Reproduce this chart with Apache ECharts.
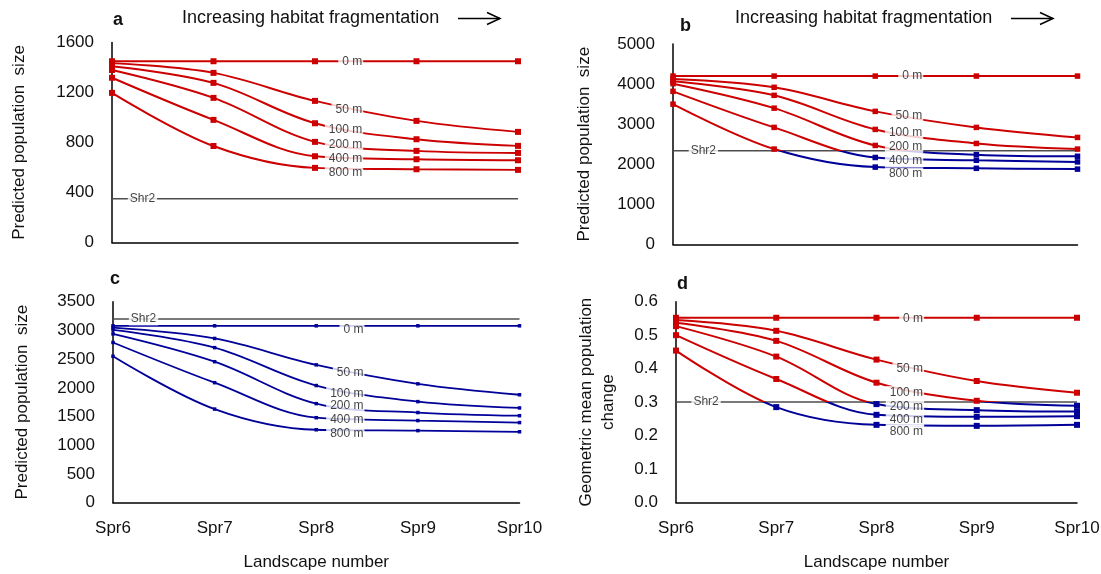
<!DOCTYPE html>
<html>
<head>
<meta charset="utf-8">
<title>Predicted population size by landscape</title>
<script src="https://cdn.jsdelivr.net/npm/echarts@6/dist/echarts.min.js"></script>
<style>
html, body { margin: 0; padding: 0; background: #fff; }
#chart { width: 1101px; height: 574px; }
</style>
</head>
<body>
<div id="chart"></div>
<script>
// landscapes on the x axis, least to most fragmented
var landscapes = ['Spr6', 'Spr7', 'Spr8', 'Spr9', 'Spr10'];
var distances = ['0 m', '50 m', '100 m', '200 m', '400 m', '800 m'];

// a: predicted population size, one row per distance
var popA = [
  [1450, 1450, 1450, 1450, 1450],
  [1435, 1357, 1133, 973, 885],
  [1410, 1277, 954, 826, 773],
  [1380, 1157, 805, 733, 717],
  [1318, 981, 690, 666, 658],
  [1197, 772, 597, 586, 581]
];
// b: predicted population size
var popB = [
  [4200, 4200, 4200, 4200, 4200],
  [4130, 3920, 3320, 2920, 2670],
  [4070, 3720, 2870, 2520, 2380],
  [4010, 3400, 2470, 2240, 2200],
  [3820, 2920, 2170, 2100, 2060],
  [3500, 2380, 1930, 1900, 1880]
];
// c: predicted population size
var popC = [
  [3080, 3080, 3080, 3080, 3080],
  [3050, 2860, 2400, 2070, 1880],
  [3010, 2700, 2040, 1760, 1650],
  [2940, 2455, 1725, 1570, 1515],
  [2790, 2090, 1480, 1430, 1395],
  [2550, 1630, 1270, 1255, 1235]
];
// d: geometric mean population change
var gmD = [
  [0.552, 0.552, 0.552, 0.552, 0.552],
  [0.545, 0.513, 0.427, 0.363, 0.328],
  [0.537, 0.483, 0.358, 0.304, 0.289],
  [0.527, 0.436, 0.294, 0.276, 0.272],
  [0.500, 0.369, 0.262, 0.256, 0.258],
  [0.454, 0.285, 0.232, 0.229, 0.232]
];
// Shr2 reference level for each panel (a, b, c, d)
var shr2 = [350, 2340, 3200, 0.3];

// y of the distance labels, in data units
var labelYA = [1450, 1064, 906, 786, 674, 557];
var labelYB = [4200, 3210, 2780, 2430, 2090, 1760];
var labelYC = [3010, 2270, 1905, 1690, 1440, 1200];
var labelYD = [0.548, 0.399, 0.329, 0.286, 0.247, 0.212];

var RED = '#cc0000';
var BLUE = '#000099';
var FONT = '"Liberation Sans", Arial, sans-serif';

var panels = [
  { data: popA, labels: labelYA, max: 1600, step: 400, grid: { left: 112, top: 42.5, width: 406, height: 200 },
    name: 'Predicted population  size', nameGap: 82, sym: 6, bottom: false },
  { data: popB, labels: labelYB, max: 5000, step: 1000, grid: { left: 673, top: 44, width: 404.5, height: 200.5 },
    name: 'Predicted population  size', nameGap: 78, sym: 5.5, bottom: false },
  { data: popC, labels: labelYC, max: 3500, step: 500, grid: { left: 113, top: 301.7, width: 406.5, height: 201 },
    name: 'Predicted population  size', nameGap: 80, sym: 3.5, bottom: true },
  { data: gmD, labels: labelYD, max: 0.6, step: 0.1, grid: { left: 676, top: 301.7, width: 401, height: 200.8 },
    name: 'Geometric mean population\nchange', nameGap: 57, sym: 6, bottom: true, fixed: 1 }
];

var grids = [], xAxes = [], yAxes = [], series = [], visualMaps = [];
var labelX = 2.47;

panels.forEach(function (p, i) {
  grids.push(Object.assign({ containLabel: false, outerBoundsMode: 'none' }, p.grid));
  xAxes.push({
    type: 'value', gridIndex: i, min: 0, max: landscapes.length - 1, interval: 1,
    axisLine: { show: true, onZero: false, lineStyle: { color: '#000', width: 1.5 } },
    axisTick: { show: false },
    splitLine: { show: false },
    axisLabel: {
      show: p.bottom, margin: 17, fontSize: 17, fontFamily: FONT, color: '#111',
      formatter: function (v) { return landscapes[v] || ''; }
    },
    name: p.bottom ? 'Landscape number' : '',
    nameLocation: 'middle', nameGap: 51,
    nameTextStyle: { fontSize: 17, fontFamily: FONT, color: '#111' }
  });
  yAxes.push({
    type: 'value', gridIndex: i, min: 0, max: p.max, interval: p.step,
    axisLine: { show: true, lineStyle: { color: '#000', width: 1.5 } },
    axisTick: { show: false },
    splitLine: { show: false },
    axisLabel: {
      margin: 18, fontSize: 17, fontFamily: FONT, color: '#111',
      formatter: function (v) { return p.fixed ? v.toFixed(p.fixed) : String(v); }
    },
    name: p.name, nameLocation: 'middle', nameGap: p.nameGap,
    nameTextStyle: { fontSize: 17, fontFamily: FONT, color: '#111', lineHeight: 22 }
  });

  var lineIdx = [];
  p.data.forEach(function (row, j) {
    lineIdx.push(series.length);
    series.push({
      type: 'line', name: distances[j], xAxisIndex: i, yAxisIndex: i,
      data: row.map(function (v, k) { return [k, v]; }),
      smooth: 0.35, symbol: 'rect', symbolSize: p.sym, showSymbol: true,
      lineStyle: { width: i === 2 ? 1.8 : 2 },
      z: 3, silent: true
    });
  });

  // Shr2 reference line
  series.push({
    type: 'line', xAxisIndex: i, yAxisIndex: i,
    data: [[0, shr2[i]], [landscapes.length - 1, shr2[i]]],
    symbol: 'none', lineStyle: { color: '#4d4d4d', width: 1.5 }, z: 2, silent: true
  });

  // distance labels and the Shr2 label, with white boxes cutting the lines
  var items = distances.map(function (d, j) {
    return { value: [labelX, p.labels[j]], name: d };
  });
  items.push({ value: [0.3, shr2[i]], name: 'Shr2', label: { position: 'inside', padding: [1, 2, 0, 2] } });
  series.push({
    type: 'scatter', xAxisIndex: i, yAxisIndex: i, data: items,
    symbolSize: 1, itemStyle: { color: 'rgba(0,0,0,0)' },
    label: {
      show: true, position: 'left', distance: -1, formatter: '{b}',
      fontSize: 12, fontFamily: FONT, color: '#111',
      backgroundColor: '#fff', padding: [1, 1, 0, 4]
    },
    z: 10, silent: true
  });

  // red above the Shr2 level, blue below it
  visualMaps.push({
    type: 'piecewise', show: false, dimension: 1, seriesIndex: lineIdx,
    pieces: [{ min: 0, max: shr2[i], color: BLUE }, { min: shr2[i], max: p.max, color: RED }]
  });
});

function arrow(x1, x2, y) {
  return [
    { type: 'line', shape: { x1: x1, y1: y, x2: x2, y2: y }, style: { stroke: '#000', lineWidth: 1.5 } },
    { type: 'polyline', shape: { points: [[x2 - 13, y - 6], [x2, y], [x2 - 13, y + 6]] },
      style: { stroke: '#000', lineWidth: 1.5, fill: null } }
  ];
}
function text(t, x, y, font) {
  return { type: 'text', x: x, y: y, style: { text: t, font: font, fill: '#111', verticalAlign: 'middle' } };
}

var graphics = [
  text('a', 113, 20, 'bold 18px ' + FONT),
  text('b', 680, 26.5, 'bold 18px ' + FONT),
  text('c', 110, 279, 'bold 18px ' + FONT),
  text('d', 677, 284, 'bold 18px ' + FONT),
  text('Increasing habitat fragmentation', 182, 18.5, '18px ' + FONT),
  text('Increasing habitat fragmentation', 735, 18.5, '18px ' + FONT)
].concat(arrow(458, 500, 18.5), arrow(1011, 1053, 18.5));

var chart = echarts.init(document.getElementById('chart'), null, { renderer: 'canvas' });
chart.setOption({
  animation: false,
  backgroundColor: '#fff',
  textStyle: { fontFamily: FONT },
  grid: grids,
  xAxis: xAxes,
  yAxis: yAxes,
  visualMap: visualMaps,
  series: series,
  graphic: graphics
});
</script>
</body>
</html>
